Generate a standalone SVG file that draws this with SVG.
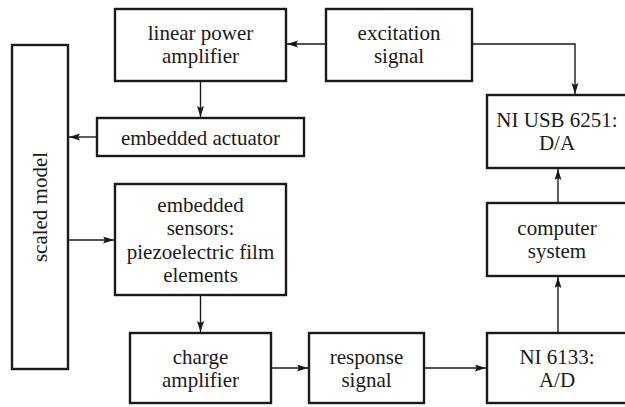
<svg xmlns="http://www.w3.org/2000/svg" width="625" height="407" viewBox="0 0 625 407">
  <defs>
    <marker id="arrow" markerUnits="userSpaceOnUse" markerWidth="12" markerHeight="8" refX="11" refY="3.5" orient="auto">
      <path d="M0,0 L11,3.5 L0,7 L2,3.5 Z" fill="#1a1a1a"/>
    </marker>
    <style>
      .box { fill: #ffffff; stroke: #1a1a1a; stroke-width: 2.4; }
      .lbl { font-family: "Liberation Serif", "Times New Roman", serif; font-size: 21px; fill: #1a1a1a; text-anchor: middle; }
      .wire { fill: none; stroke: #1a1a1a; stroke-width: 1.4; marker-end: url(#arrow); }
    </style>
  </defs>
  <rect width="625" height="407" fill="#ffffff"/>

  <!-- connectors -->
  <g id="connectors">
    <path class="wire" d="M326,44 L287,44"/>
    <path class="wire" d="M472,44 L575,44 L575,94"/>
    <path class="wire" d="M200.5,81 L200.5,117"/>
    <path class="wire" d="M97,137 L69,137"/>
    <path class="wire" d="M68,240 L114,240"/>
    <path class="wire" d="M200.5,295 L200.5,332"/>
    <path class="wire" d="M271,368 L308,368"/>
    <path class="wire" d="M424,368 L486,368"/>
    <path class="wire" d="M558,333 L558,277"/>
    <path class="wire" d="M558,203 L558,169"/>
  </g>

  <g id="linear-power-amplifier">
    <rect class="box" x="115" y="9" width="171" height="72"/>
    <text class="lbl" x="200.5" y="40">linear power</text>
    <text class="lbl" x="200.5" y="63">amplifier</text>
  </g>

  <g id="excitation-signal">
    <rect class="box" x="326" y="9" width="146" height="72"/>
    <text class="lbl" x="399" y="40">excitation</text>
    <text class="lbl" x="399" y="63">signal</text>
  </g>

  <g id="ni-usb-6251">
    <rect class="box" x="487" y="95" width="141" height="73"/>
    <text class="lbl" x="557" y="127">NI USB 6251:</text>
    <text class="lbl" x="557" y="150">D/A</text>
  </g>

  <g id="embedded-actuator">
    <rect class="box" x="97" y="118" width="207" height="38"/>
    <text class="lbl" x="200.5" y="145">embedded actuator</text>
  </g>

  <g id="scaled-model">
    <rect class="box" x="12" y="45" width="56" height="324"/>
    <text class="lbl" transform="translate(47,207) rotate(-90)">scaled model</text>
  </g>

  <g id="embedded-sensors">
    <rect class="box" x="115" y="184" width="171" height="111"/>
    <text class="lbl" x="200.5" y="211.5">embedded</text>
    <text class="lbl" x="200.5" y="235">sensors:</text>
    <text class="lbl" x="200.5" y="258.5">piezoelectric film</text>
    <text class="lbl" x="200.5" y="282">elements</text>
  </g>

  <g id="computer-system">
    <rect class="box" x="487" y="203" width="141" height="73"/>
    <text class="lbl" x="557" y="235">computer</text>
    <text class="lbl" x="557" y="258">system</text>
  </g>

  <g id="charge-amplifier">
    <rect class="box" x="130" y="333" width="141" height="70"/>
    <text class="lbl" x="200.5" y="364">charge</text>
    <text class="lbl" x="200.5" y="387">amplifier</text>
  </g>

  <g id="response-signal">
    <rect class="box" x="309" y="333" width="115" height="70"/>
    <text class="lbl" x="366.5" y="364">response</text>
    <text class="lbl" x="366.5" y="387">signal</text>
  </g>

  <g id="ni-6133">
    <rect class="box" x="487" y="333" width="141" height="70"/>
    <text class="lbl" x="557" y="364">NI 6133:</text>
    <text class="lbl" x="557" y="387">A/D</text>
  </g>
</svg>
